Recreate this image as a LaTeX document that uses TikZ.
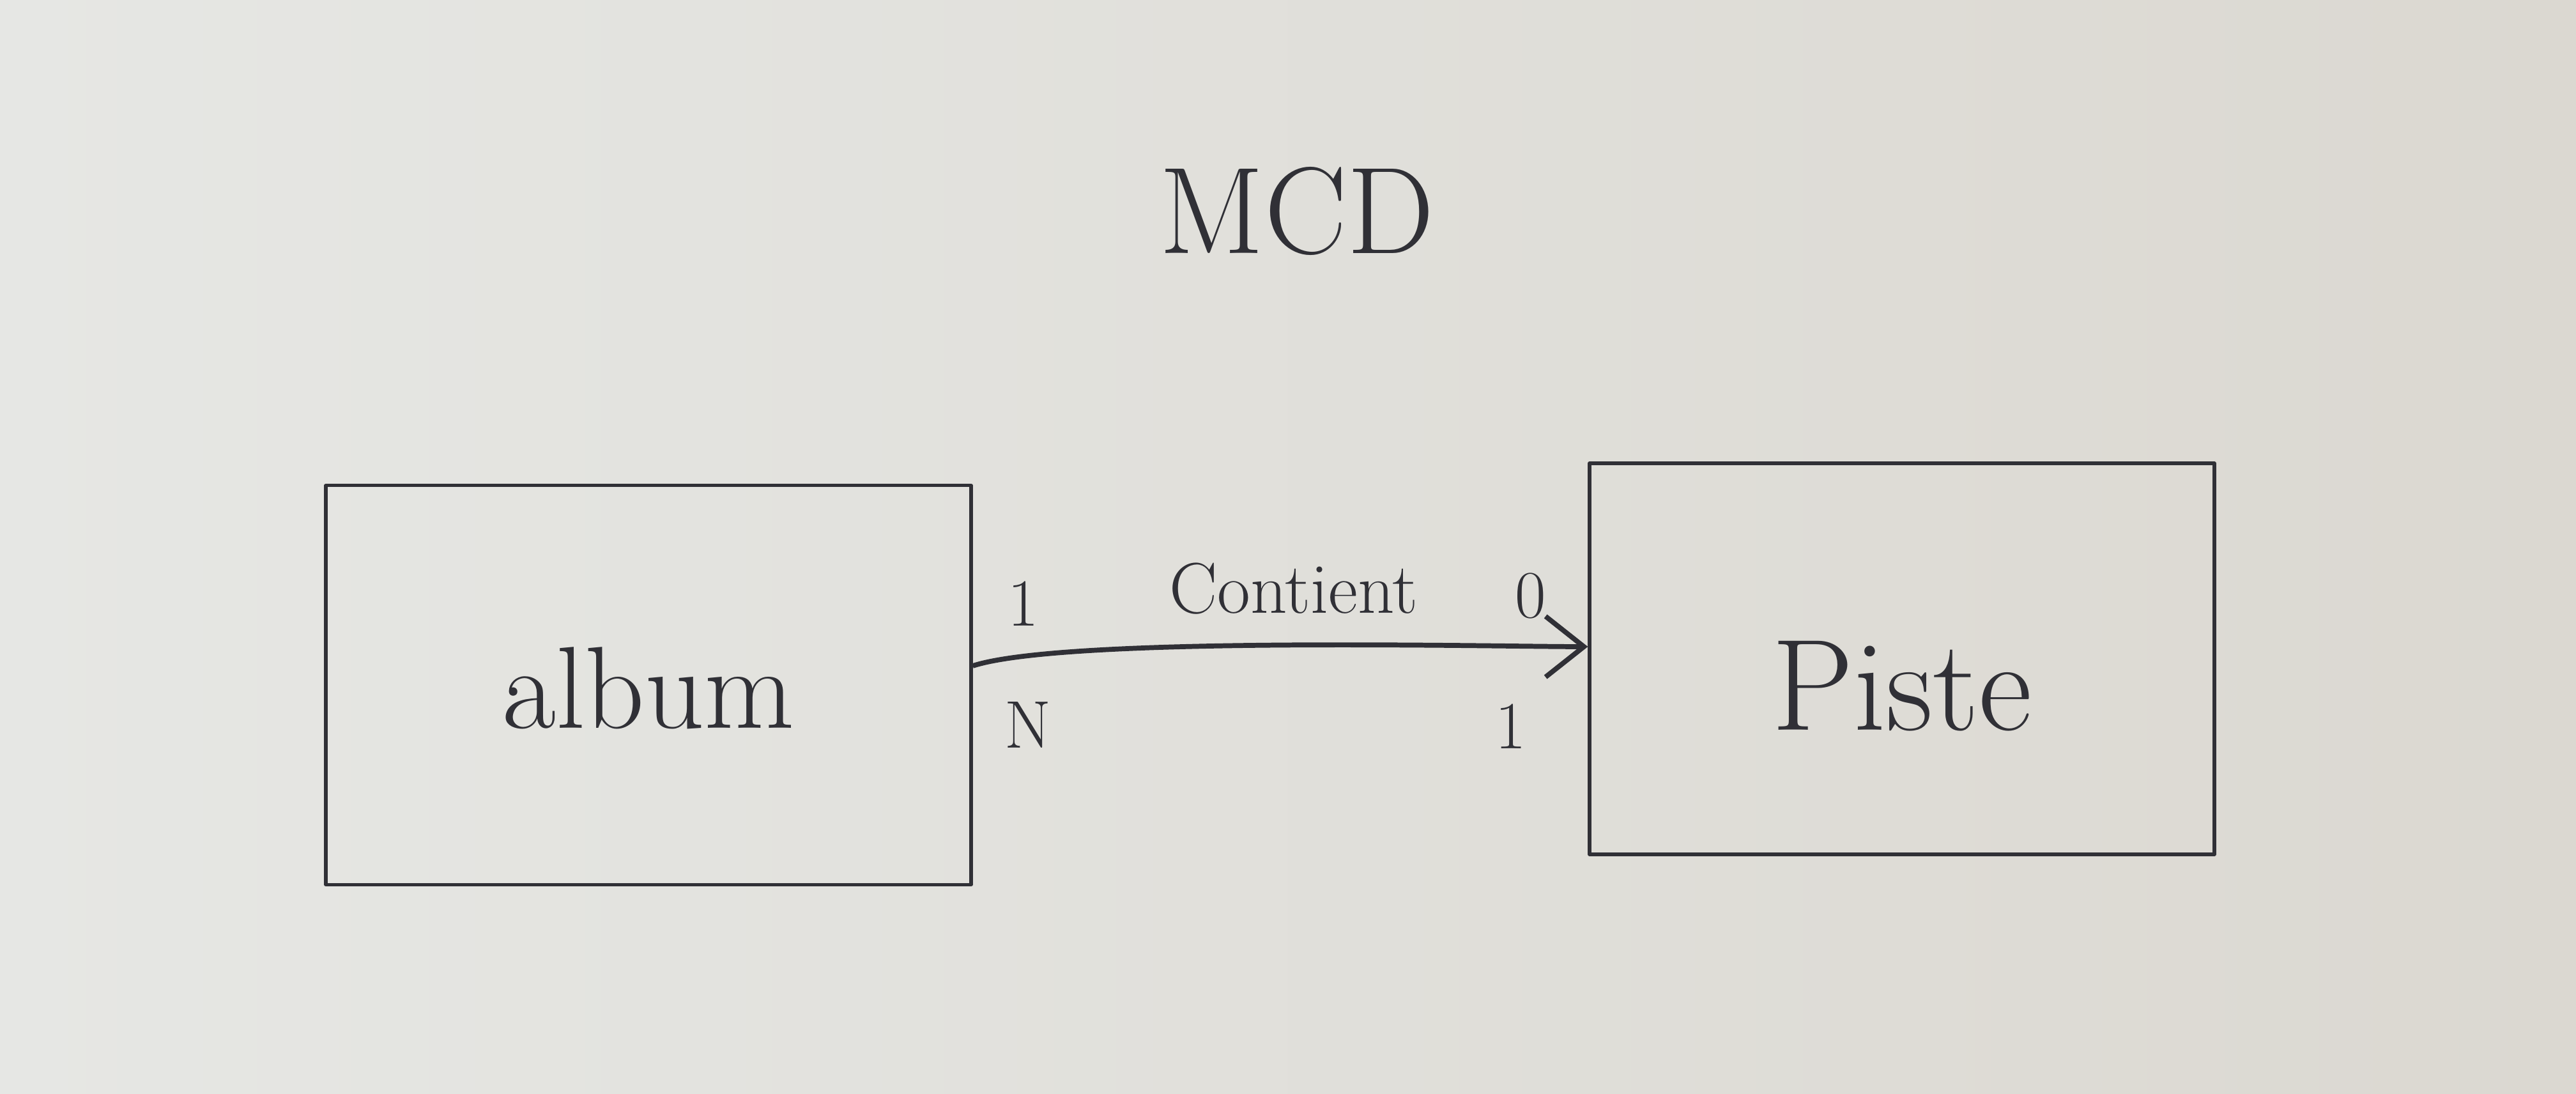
\documentclass[tikz,border=0pt]{standalone}
\usepackage{tikz}
\usetikzlibrary{positioning,arrows.meta}
\definecolor{paper}{RGB}{230,231,228}
\definecolor{paperwarm}{RGB}{219,216,209}
\definecolor{ink}{RGB}{48,48,54}

\begin{document}
\begin{tikzpicture}[color=ink]
  \tikzstyle{entity}=[rectangle,draw=ink,line width=1.5pt,line join=round,inner sep=0pt]
  \tikzstyle{card}=[font=\fontsize{30}{36}\selectfont,inner sep=0pt]
  \tikzstyle{link}=[draw=ink,line width=2.2pt,-{Straight Barb[length=6mm,width=9.5mm,line width=2.2pt]}]

  \shade[left color=paper,right color=paperwarm] (0,0) rectangle (40.32,17.11);
  \useasboundingbox (0,0) rectangle (40.32,17.11);

  \node[font=\fontsize{55}{66}\selectfont] (title) at (20.30,13.81) {MCD};

  \node[entity,minimum width=10.1cm,minimum height=6.25cm,text height=1.36cm,
        font=\fontsize{52}{62}\selectfont] (album) at (10.15,6.39) {album};
  \node[entity,minimum width=9.78cm,minimum height=6.12cm,text height=2.24cm,
        font=\fontsize{58}{70}\selectfont] (piste) at (29.77,6.80) {Piste};

  \draw[link] ([yshift=3mm]album.east) to[out=18,in=180,looseness=0.4] ([yshift=1.9mm]piste.west);

  \node[font=\fontsize{32}{38}\selectfont,anchor=base] (rel) at (20.25,7.51) {Contient};

  \node[card] (albmax) at (16.02,7.66) {1};
  \node[card] (albmin) at (16.09,5.77) {N};
  \node[card] (pismin) at (23.96,7.79) {0};
  \node[card] (pismax) at (23.65,5.74) {1};
\end{tikzpicture}
\end{document}
